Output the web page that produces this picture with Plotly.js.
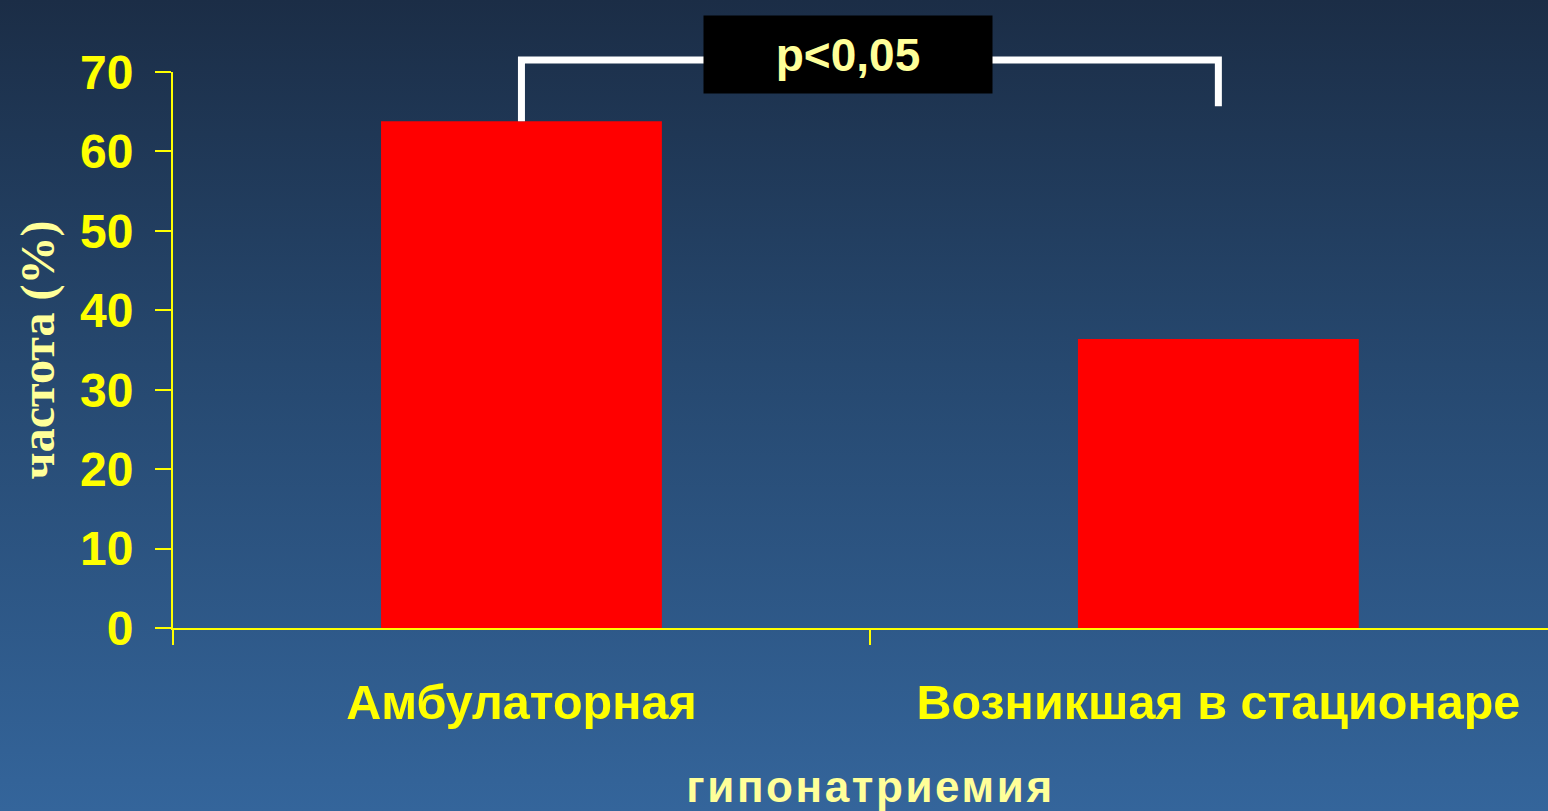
<!DOCTYPE html>
<html><head><meta charset="utf-8">
<script src="https://cdn.plot.ly/plotly-3.0.1.min.js"></script>
<style>
html,body{margin:0;padding:0;width:1548px;height:811px;overflow:hidden;
background:linear-gradient(to bottom,#1b2d46 0%,#26486f 45%,#34659b 100%);}
#chart{width:1548px;height:811px;}
.xtitle{letter-spacing:2.6px;transform:translate(10px,0);}
</style></head>
<body><div id="chart"></div>
<script>
const categories = ["Амбулаторная", "Возникшая в стационаре"];
const values = [63.8, 36.4];
const yTicks = [0, 10, 20, 30, 40, 50, 60, 70];
const xTitle = "гипонатриемия";
const yTitle = "частота (%)";
const pText = "p<0,05";
const bracketTop = 71.5;      // level of the significance bracket
const bracketRightEnd = 65.7; // lower end of right leg

const yMax = 70;
const toPaper = v => v / yMax;
const yellow = "#ffff00";
const pale = "#ffff99";

const trace = {
  type: "bar", x: categories, y: values,
  width: 0.403,
  marker: {color: "#ff0000", line: {width: 0}},
  hoverinfo: "skip"
};

const layout = {
  width: 1548, height: 811,
  paper_bgcolor: "rgba(0,0,0,0)", plot_bgcolor: "rgba(0,0,0,0)",
  margin: {l: 173, r: 0, t: 72, b: 183},
  showlegend: false,
  xaxis: {
    type: "category", range: [-0.5, 1.473],
    showline: true, linecolor: yellow, linewidth: 2,
    ticks: "outside", tickson: "boundaries", ticklen: 15, tickwidth: 2, tickcolor: yellow,
    ticklabelstandoff: 31,
    tickfont: {family: "Liberation Sans, Arial", size: 48.5, color: yellow, weight: "bold"},
    showgrid: false, zeroline: false,
    title: {text: xTitle, standoff: 44,
      font: {family: "Liberation Sans, Arial", size: 44, color: pale, weight: "bold"}}
  },
  yaxis: {
    range: [0, yMax], tickvals: yTicks,
    showline: true, linecolor: yellow, linewidth: 2,
    ticks: "outside", ticklen: 16, tickwidth: 2, tickcolor: yellow,
    ticklabelstandoff: 12,
    tickfont: {family: "Liberation Sans, Arial", size: 48, color: yellow, weight: "bold"},
    showgrid: false, zeroline: false,
    title: {text: yTitle, standoff: 10,
      font: {family: "Liberation Serif, Times New Roman", size: 48, color: pale, weight: "bold"}}
  },
  shapes: [
    {type: "path", xref: "x", yref: "paper",
     path: "M 0," + toPaper(values[0]) + " L 0," + toPaper(bracketTop) +
           " L 1," + toPaper(bracketTop) + " L 1," + toPaper(bracketRightEnd),
     line: {color: "#ffffff", width: 7}}
  ],
  annotations: [
    {xref: "x", yref: "paper", x: 0.5, y: toPaper(bracketTop), xshift: -22, yshift: 6,
     text: pText, showarrow: false, bgcolor: "#000000", borderpad: 0,
     width: 288, height: 77, xanchor: "center", yanchor: "middle",
     font: {family: "Liberation Sans, Arial", size: 46, color: pale, weight: "bold"}}
  ]
};

Plotly.newPlot("chart", [trace], layout, {displayModeBar: false, staticPlot: true});
</script>
</body></html>
